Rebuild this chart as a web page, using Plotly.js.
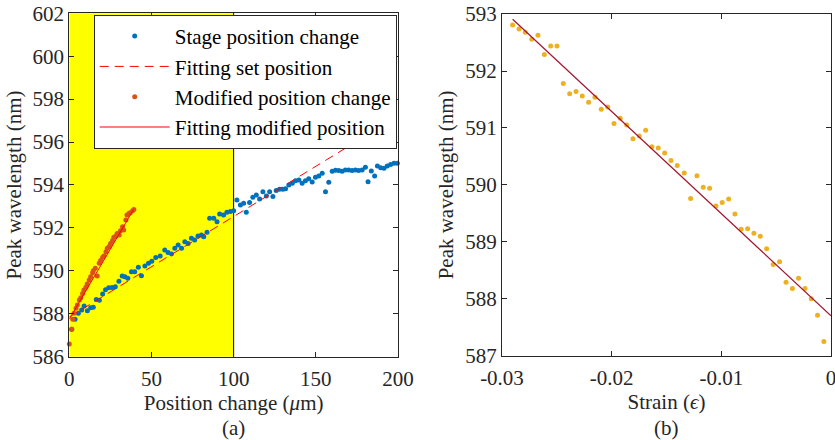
<!DOCTYPE html>
<html>
<head>
<meta charset="utf-8">
<script src="https://cdn.plot.ly/plotly-3.0.1.min.js"></script>
<style>html,body{margin:0;padding:0;background:#fff;}#chart{width:835px;height:440px;}</style>
</head>
<body>
<div id="chart"></div>
<script>
// ---- Panel (a) data ----
const stageX = [1.5,3.5,5.5,7.5,9.0,11.0,13.0,14.6,16.4,18.3,20.3,22.0,24.0,26.0,28.0,30.2,32.2,33.8,35.6,37.8,39.8,42.0,43.9,46.0,48.2,50.2,52.6,55.3,58.1,60.1,62.2,64.2,66.2,68.3,70.3,72.3,74.3,76.3,78.3,80.4,81.8,83.8,85.4,87.9,89.9,91.5,93.9,95.9,98.0,100.0,102.0,104.1,106.1,107.7,109.7,111.7,113.8,115.8,117.8,119.9,121.9,123.9,125.9,127.9,130.0,131.6,133.6,135.7,137.7,139.7,141.7,143.7,145.7,147.8,149.8,151.8,153.9,155.9,157.9,160.0,162.0,164.0,166.0,168.0,170.0,172.1,174.1,176.1,178.2,180.2,181.8,183.8,185.8,187.5,189.5,191.5,193.5,195.5,197.6,199.6];
const stageY = [587.28,587.74,588.02,588.18,588.36,588.14,588.28,588.30,588.66,588.63,588.92,589.12,589.21,589.23,589.26,589.52,589.76,589.73,589.65,589.96,589.96,590.17,589.77,590.23,590.35,590.45,590.62,590.69,590.97,590.85,590.79,591.05,591.21,591.05,591.36,591.28,591.52,591.44,591.62,591.67,591.59,591.80,592.45,592.45,592.29,592.65,592.60,592.73,592.76,592.80,593.30,593.07,593.15,592.73,593.18,593.43,593.53,593.35,593.69,593.49,593.69,593.46,593.74,593.80,593.80,593.83,594.00,594.08,594.20,594.23,594.08,594.20,594.29,594.14,594.36,594.42,594.55,593.69,594.13,594.64,594.69,594.67,594.64,594.70,594.70,594.67,594.70,594.67,594.70,594.83,594.15,594.65,594.42,594.89,594.80,594.78,594.89,594.95,595.01,595.01];
const setFitX = [0, 200];
const setFitY = [587.85, 597.21];
const modX = [0,1.45,2.1,2.9,4.1,4.9,6.1,7.0,8.1,8.9,10.1,10.9,12.1,13.0,14.2,14.6,15.8,17.0,18.2,19.0,20.3,21.1,22.3,23.1,24.3,25.1,26.3,27.1,28.4,29.1,30.4,31.1,32.4,33.1,34.4,35.1,36.4,37.1,38.5,39.3];
const modY = [586.59,587.28,587.74,588.02,588.26,588.41,588.64,588.75,588.95,589.11,589.24,589.39,589.57,589.73,589.91,590.00,590.12,589.76,590.35,590.48,590.63,590.69,590.89,591.05,591.13,591.28,591.41,591.56,591.62,591.74,591.67,591.87,592.06,591.90,592.37,592.60,592.68,592.71,592.80,592.86];
const modFitX = [0, 39];
const modFitY = [587.75, 592.85];
const shadeX = [0, 100];

// ---- Panel (b) data ----
const strainX = [-0.02903,-0.02845,-0.02788,-0.02729,-0.02672,-0.02614,-0.02556,-0.02499,-0.02441,-0.02383,-0.02325,-0.02268,-0.02210,-0.02152,-0.02095,-0.02036,-0.01979,-0.01922,-0.01863,-0.01806,-0.01748,-0.01690,-0.01633,-0.01575,-0.01517,-0.01459,-0.01402,-0.01338,-0.01280,-0.01222,-0.01165,-0.01107,-0.01049,-0.00992,-0.00933,-0.00876,-0.00819,-0.00760,-0.00703,-0.00645,-0.00587,-0.00527,-0.00469,-0.00410,-0.00352,-0.00296,-0.00237,-0.00180,-0.00123,-0.00065];
const strainY = [592.81,592.74,592.68,592.56,592.63,592.29,592.44,592.44,591.78,591.60,591.64,591.56,591.45,591.54,591.33,591.37,591.08,591.17,591.05,590.81,590.86,590.96,590.67,590.65,590.56,590.43,590.34,590.21,589.76,590.16,589.96,589.94,589.63,589.69,589.75,589.49,589.22,589.23,589.15,589.10,588.88,588.60,588.65,588.29,588.18,588.36,588.18,588.00,587.71,587.25];
const strainFitX = [-0.02903, 0];
const strainFitY = [592.91, 587.70];

// ---- Tick labels ----
const aTickVals = [0, 50, 100, 150, 200];
const aYTickVals = [586,588,590,592,594,596,598,600,602];
const bTickVals = [-0.03, -0.02, -0.01, 0];
const bTickText = ['-0.03', '-0.02', '-0.01', '0'];
const bYTickVals = [587,588,589,590,591,592,593];

const FONT = 'Liberation Serif, Times New Roman, serif';
const FS = 21;
const AX = '#262626';

const traces = [
  {x: stageX, y: stageY, type: 'scatter', mode: 'markers', name: 'Stage position change',
   marker: {color: '#0072BD', size: 5}, cliponaxis: false, xaxis: 'x', yaxis: 'y'},
  {x: setFitX, y: setFitY, type: 'scatter', mode: 'lines', name: 'Fitting set position',
   line: {color: '#FF0000', width: 1, dash: '9px,6px'}, xaxis: 'x', yaxis: 'y'},
  {x: modX, y: modY, type: 'scatter', mode: 'markers', name: 'Modified position change',
   marker: {color: '#D95319', size: 5}, cliponaxis: false, xaxis: 'x', yaxis: 'y'},
  {x: modFitX, y: modFitY, type: 'scatter', mode: 'lines', name: 'Fitting modified position',
   line: {color: '#FF0000', width: 1}, xaxis: 'x', yaxis: 'y'},
  {x: strainX, y: strainY, type: 'scatter', mode: 'markers', showlegend: false,
   marker: {color: '#EDB120', size: 5}, cliponaxis: false, xaxis: 'x2', yaxis: 'y2'},
  {x: strainFitX, y: strainFitY, type: 'scatter', mode: 'lines', showlegend: false,
   line: {color: '#A2142F', width: 1.2}, xaxis: 'x2', yaxis: 'y2'}
];

function axisBase() {
  return {
    showgrid: false, zeroline: false, showline: true, linecolor: AX, linewidth: 1,
    mirror: 'ticks', ticks: 'inside', ticklen: 5, tickcolor: AX, tickwidth: 1,
    tickfont: {family: FONT, size: FS, color: AX}, automargin: false,
    ticklabeloverflow: 'allow', fixedrange: true
  };
}

const layout = {
  width: 835, height: 440,
  margin: {l: 0, r: 0, t: 0, b: 0},
  paper_bgcolor: '#fff', plot_bgcolor: '#fff',
  font: {family: FONT, size: FS, color: AX},
  showlegend: true,
  legend: {
    x: 0.4751, xanchor: 'right', y: 0.966, yanchor: 'top',
    bgcolor: '#fff', bordercolor: AX, borderwidth: 1,
    font: {family: FONT, size: 21, color: '#000'},
    itemwidth: 70, tracegroupgap: 0
  },
  xaxis: Object.assign(axisBase(), {
    domain: [0.083, 0.4766], range: [0, 200], tickvals: aTickVals, ticklabelstandoff: 3,
    title: {text: 'Position change (<i>μ</i>m)', font: {family: FONT, size: FS, color: AX}, standoff: 3},
    anchor: 'y'
  }),
  yaxis: Object.assign(axisBase(), {
    domain: [0.1893, 0.9698], range: [586, 602], tickvals: aYTickVals,
    title: {text: 'Peak wavelength (nm)', font: {family: FONT, size: FS, color: AX}, standoff: 5},
    anchor: 'x'
  }),
  xaxis2: Object.assign(axisBase(), {
    domain: [0.6012, 0.9952], range: [-0.03, 0], tickvals: bTickVals, ticktext: bTickText, ticklabelstandoff: 3,
    title: {text: 'Strain (<i>ϵ</i>)', font: {family: FONT, size: FS, color: AX}, standoff: 3},
    anchor: 'y2'
  }),
  yaxis2: Object.assign(axisBase(), {
    domain: [0.1916, 0.968], range: [587, 593], tickvals: bYTickVals,
    title: {text: 'Peak wavelength (nm)', font: {family: FONT, size: FS, color: AX}, standoff: 5},
    anchor: 'x2'
  }),
  shapes: [
    {type: 'rect', xref: 'x', yref: 'y domain', x0: shadeX[0], x1: shadeX[1], y0: 0, y1: 1,
     fillcolor: '#FFFF00', line: {width: 0}, layer: 'below'},
    {type: 'line', xref: 'x', yref: 'y domain', x0: shadeX[1], x1: shadeX[1], y0: 0, y1: 1,
     line: {color: '#000', width: 1}, layer: 'below'}
  ],
  annotations: [
    {text: '(a)', xref: 'paper', yref: 'paper', x: 233/835, y: 1 - 428/440,
     showarrow: false, font: {family: FONT, size: FS, color: AX}, xanchor: 'center', yanchor: 'middle'},
    {text: '(b)', xref: 'paper', yref: 'paper', x: 666/835, y: 1 - 428/440,
     showarrow: false, font: {family: FONT, size: FS, color: AX}, xanchor: 'center', yanchor: 'middle'}
  ]
};

Plotly.newPlot('chart', traces, layout, {displayModeBar: false, staticPlot: true});
</script>
</body>
</html>
